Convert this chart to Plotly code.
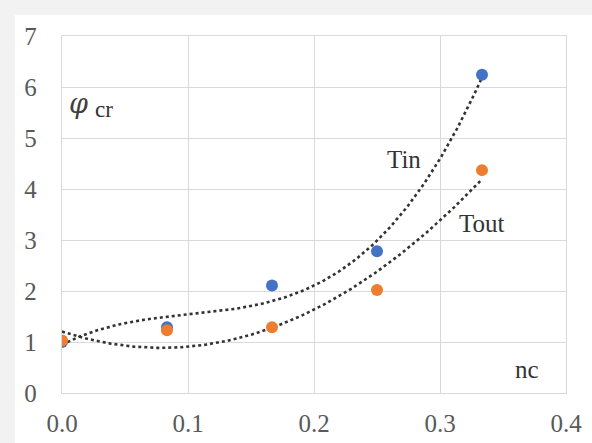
import numpy as np
import plotly.graph_objects as go

nc = [0.0, 1/12, 2/12, 3/12, 4/12]
tin = [1.00, 1.29, 2.11, 2.78, 6.24]
tout = [1.03, 1.23, 1.29, 2.02, 4.37]
x_ticks = [0.0, 0.1, 0.2, 0.3, 0.4]
x_labels = ["0.0", "0.1", "0.2", "0.3", "0.4"]
y_ticks = [0, 1, 2, 3, 4, 5, 6, 7]

# trendlines: polynomial fits of the data (Tin cubic, Tout quadratic)
xs = np.linspace(0, nc[-1], 200)
fit_in = np.polyval(np.polyfit(nc, tin, 3), xs)
fit_out = np.polyval(np.polyfit(nc, tout, 2), xs)

fig = go.Figure()
dot = dict(color="#333333", width=2.6, dash="dot")
fig.add_trace(go.Scatter(x=xs, y=fit_in, mode="lines", line=dot, hoverinfo="skip"))
fig.add_trace(go.Scatter(x=xs, y=fit_out, mode="lines", line=dot, hoverinfo="skip"))
fig.add_trace(go.Scatter(x=nc, y=tin, mode="markers", marker=dict(color="#4472C4", size=12), name="Tin"))
fig.add_trace(go.Scatter(x=nc, y=tout, mode="markers", marker=dict(color="#ED7D31", size=12), name="Tout"))

ser = "Liberation Serif"
txt = "#333333"
fig.update_layout(
    width=592, height=443,
    margin=dict(l=62, r=26, t=36, b=50),
    paper_bgcolor="white", plot_bgcolor="white",
    showlegend=False,
    font=dict(family=ser, color="#595959", size=24),
    xaxis=dict(range=[0, 0.4], tickvals=x_ticks, ticktext=x_labels, showgrid=True,
               gridcolor="#d9d9d9", gridwidth=1.3, zeroline=False, showline=True,
               linecolor="#d9d9d9", linewidth=1.3, mirror=True, ticks="outside", ticklen=8,
               tickcolor="rgba(0,0,0,0)", automargin=False,
               tickfont=dict(family=ser, size=25, color="#595959")),
    yaxis=dict(range=[0, 7], tickvals=y_ticks, showgrid=True, gridcolor="#d9d9d9",
               gridwidth=1.3, zeroline=False, showline=True, linecolor="#d9d9d9",
               linewidth=1.3, mirror=True, ticks="outside", ticklen=19,
               tickcolor="rgba(0,0,0,0)", automargin=False,
               tickfont=dict(family=ser, size=25, color="#595959")),
    annotations=[
        dict(x=0.0127, y=5.68, xref="x", yref="y", text="<i>φ</i>", showarrow=False,
             font=dict(family="DejaVu Serif", size=27, color="#404040")),
        dict(x=0.0335, y=5.55, xref="x", yref="y", text="cr", showarrow=False,
             font=dict(family=ser, size=23, color=txt)),
        dict(x=0.2714, y=4.57, xref="x", yref="y", text="Tin", showarrow=False,
             font=dict(family=ser, size=25, color=txt)),
        dict(x=0.3333, y=3.33, xref="x", yref="y", text="Tout", showarrow=False,
             font=dict(family=ser, size=25, color=txt)),
        dict(x=0.369, y=0.47, xref="x", yref="y", text="nc", showarrow=False,
             font=dict(family=ser, size=25, color=txt)),
    ],
    shapes=[
        dict(type="rect", xref="paper", yref="paper", x0=-0.2, x1=1.2, y0=1.0 + 21/357, y1=1.2,
             fillcolor="#f2f2f2", line_width=0, layer="below"),
        dict(type="rect", xref="paper", yref="paper", x0=-62/504, x1=-47/504, y0=-0.3, y1=1.2,
             fillcolor="#f2f2f2", line_width=0, layer="below"),
    ],
)
fig.write_html("out.html")
